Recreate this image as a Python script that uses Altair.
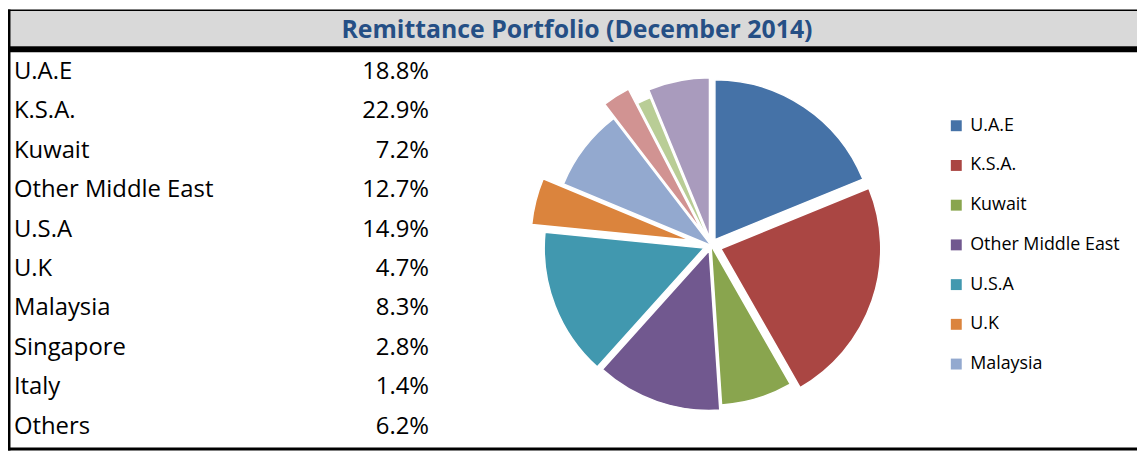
import altair as alt
import pandas as pd

# ---- data ----
regions = ["U.A.E", "K.S.A.", "Kuwait", "Other Middle East", "U.S.A",
           "U.K", "Malaysia", "Singapore", "Italy", "Others"]
shares = [18.8, 22.9, 7.2, 12.7, 14.9, 4.7, 8.3, 2.8, 1.4, 6.2]
title_text = "Remittance Portfolio (December 2014)"

# ---- style ----
colors = ["#4572A7", "#AA4643", "#89A54E", "#71588F", "#4198AF",
          "#DB843D", "#93A9CF", "#D19392", "#B9CD96", "#A99BBD"]
explode = [7, 10.5, 0, 5.5, 7.5, 21, 0, 17, 0, 8]   # slice pull-out in px
W, H = 1137, 444
CX, CY, R = 708, 237.5, 161
FONT = "Open Sans"

df = pd.DataFrame({
    "region": regions,
    "share": shares,
    "order": list(range(len(regions))),
    "explode": explode,
})
one = pd.DataFrame({"k": [0]})

# frame / title bar
bar = alt.Chart(one).mark_rect(color="#D9D9D9").encode(
    x=alt.value(0), x2=alt.value(W), y=alt.value(1), y2=alt.value(37))
top_line = alt.Chart(one).mark_rect(color="black").encode(
    x=alt.value(0), x2=alt.value(W), y=alt.value(0), y2=alt.value(1.5))
mid_line = alt.Chart(one).mark_rect(color="black").encode(
    x=alt.value(0), x2=alt.value(W), y=alt.value(37), y2=alt.value(43))
bot_line = alt.Chart(one).mark_rect(color="black").encode(
    x=alt.value(0), x2=alt.value(W), y=alt.value(441), y2=alt.value(444))
left_line = alt.Chart(one).mark_rect(color="black").encode(
    x=alt.value(0), x2=alt.value(2.5), y=alt.value(0), y2=alt.value(444))

title = alt.Chart(one).mark_text(
    font=FONT, fontSize=25, fontWeight="bold", color="#254F85",
    align="center", baseline="alphabetic").encode(
    x=alt.value(573), y=alt.value(28.5), text=alt.value(title_text))

row_scale = alt.Scale(type="point", domain=regions, range=[70, 427], padding=0)

labels = alt.Chart(df).mark_text(
    font=FONT, fontSize=24, color="black", align="left", baseline="alphabetic"
).encode(
    x=alt.value(6),
    y=alt.Y("region:N", scale=row_scale, axis=None),
    text="region:N",
)

pcts = alt.Chart(df).transform_calculate(
    lab="format(datum.share, '.1f') + '%'"
).mark_text(
    font=FONT, fontSize=24, color="black", align="right", baseline="alphabetic"
).encode(
    x=alt.value(424),
    y=alt.Y("region:N", scale=row_scale, axis=None),
    text="lab:N",
)

pie = alt.Chart(df).transform_window(
    cum="sum(share)", sort=[alt.SortField("order")], frame=[None, 0]
).transform_joinaggregate(
    total="sum(share)"
).transform_calculate(
    start="datum.cum - datum.share"
).transform_calculate(
    mid="(datum.cum - datum.share / 2) / datum.total * 2 * PI"
).transform_calculate(
    px=f"{CX} + datum.explode * sin(datum.mid)"
).transform_calculate(
    py=f"{CY} - datum.explode * cos(datum.mid)"
).mark_arc(radius=R, stroke="white", strokeWidth=1.5).encode(
    theta=alt.Theta("start:Q", stack=None,
                    scale=alt.Scale(domain=[0, sum(shares)], range=[0, 6.283185307179586])),
    theta2="cum:Q",
    x=alt.X("px:Q", scale=None, stack=None, axis=None),
    y=alt.Y("py:Q", scale=None, stack=None, axis=None),
    color=alt.Color(
        "region:N",
        scale=alt.Scale(domain=regions, range=colors),
        legend=alt.Legend(
            values=regions[:7], orient="none", legendX=946, legendY=108,
            title=None, symbolType="square", symbolSize=121,
            symbolStrokeWidth=0, labelFont=FONT, labelFontSize=18,
            labelColor="black", rowPadding=22, labelOffset=5,
            labelLimit=400, padding=0,
        ),
    ),
    order=alt.Order("order:Q"),
)

chart = alt.layer(
    bar, top_line, mid_line, bot_line, left_line, title, labels, pcts, pie
).resolve_scale(
    x="independent", y="independent"
).properties(
    width=W, height=H, padding=0,
    autosize=alt.AutoSizeParams(type="none"),
).configure_view(strokeWidth=0)

chart.save("out.html", embed_options={"renderer": "svg", "actions": False})
